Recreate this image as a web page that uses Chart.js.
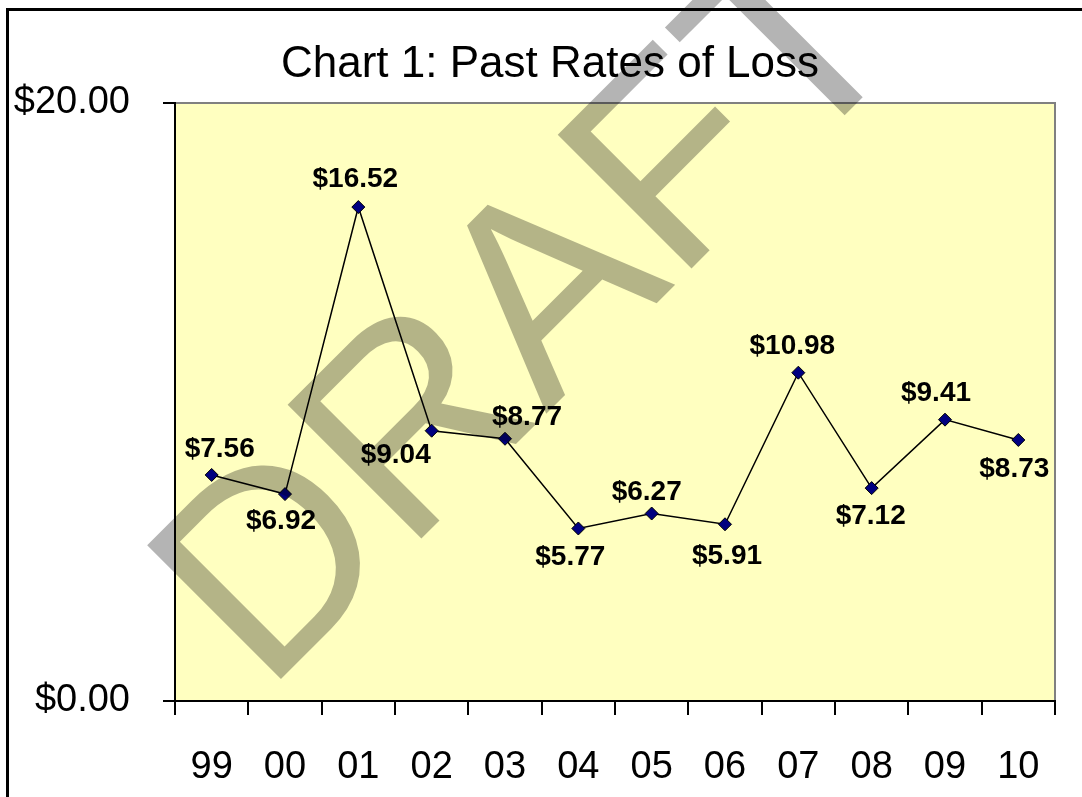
<!DOCTYPE html>
<html><head><meta charset="utf-8">
<script src="https://cdn.jsdelivr.net/npm/chart.js@4.4.1/dist/chart.umd.min.js"></script>
<style>html,body{margin:0;padding:0;background:#fff;}#wrap{width:1082px;height:797px;position:relative;}</style>
</head><body><div id="wrap"><canvas id="c"></canvas></div>
<script>
const categories = ['99','00','01','02','03','04','05','06','07','08','09','10'];
const lossRates = [7.56, 6.92, 16.52, 9.04, 8.77, 5.77, 6.27, 5.91, 10.98, 7.12, 9.41, 8.73];
const yTickValues = [0, 20];
const chartTitle = 'Chart 1: Past Rates of Loss';
const watermarkText = 'DRAFT';
// data label offsets relative to each point (px)
const labelDx = [8, -4, -3, -36, 22, -8, -5, 2, -6, -1, -9, -4];
const labelDy = [-26, 27, -28, 25, -21, 29, -21, 32, -26, 28, -26, 29];

const FONT = '"Liberation Sans", Arial, sans-serif';

const frame = {
  id: 'frame',
  beforeDraw(chart) {
    const {ctx, chartArea: a} = chart;
    ctx.save();
    ctx.fillStyle = '#fff';
    ctx.fillRect(0, 0, chart.width, chart.height);
    ctx.fillStyle = '#FFFFC0';
    ctx.fillRect(a.left, a.top, a.right - a.left, a.bottom - a.top);
    ctx.strokeStyle = '#808080';
    ctx.lineWidth = 2;
    ctx.beginPath();
    ctx.moveTo(a.left, a.top);
    ctx.lineTo(a.right, a.top);
    ctx.lineTo(a.right, a.bottom);
    ctx.stroke();
    ctx.strokeStyle = '#000';
    ctx.lineWidth = 3;
    ctx.strokeRect(7.5, 9.5, chart.width + 20, chart.height + 20);
    ctx.fillStyle = '#000';
    ctx.font = '44px ' + FONT;
    ctx.textAlign = 'center';
    ctx.textBaseline = 'middle';
    ctx.fillText(chartTitle, 550, 65);
    ctx.restore();
  },
  afterDatasetsDraw(chart) {
    const {ctx} = chart;
    const meta = chart.getDatasetMeta(0);
    ctx.save();
    ctx.fillStyle = '#000';
    ctx.font = 'bold 28px ' + FONT;
    ctx.textAlign = 'center';
    ctx.textBaseline = 'middle';
    meta.data.forEach((pt, i) => {
      ctx.fillText('$' + lossRates[i].toFixed(2), pt.x + labelDx[i], pt.y + labelDy[i]);
    });
    ctx.restore();
  },
  afterDraw(chart) {
    const {ctx} = chart;
    ctx.save();
    ctx.globalCompositeOperation = 'multiply';
    ctx.fillStyle = 'rgb(180,180,180)';
    ctx.font = '275px ' + FONT;
    ctx.textAlign = 'left';
    ctx.textBaseline = 'alphabetic';
    ctx.translate(265, 695);
    ctx.rotate(-Math.PI / 4);
    ctx.fillText(watermarkText, 0, 0);
    ctx.restore();
  }
};

new Chart(document.getElementById('c'), {
  type: 'line',
  data: {
    labels: categories,
    datasets: [{
      data: lossRates,
      borderColor: '#000',
      borderWidth: 1.5,
      pointStyle: 'rectRot',
      pointRadius: 6.5,
      pointHoverRadius: 6.5,
      pointBackgroundColor: '#000080',
      pointBorderColor: '#000',
      pointBorderWidth: 1,
      tension: 0,
      fill: false
    }]
  },
  options: {
    responsive: true,
    maintainAspectRatio: false,
    animation: false,
    events: [],
    layout: {padding: {top: 103, right: 27, left: 0, bottom: 0}},
    plugins: {legend: {display: false}, title: {display: false}, tooltip: {enabled: false}},
    scales: {
      x: {
        type: 'category',
        offset: true,
        grid: {offset: true, drawOnChartArea: false, tickLength: 14, color: '#000', lineWidth: 2},
        border: {color: '#000', width: 2},
        ticks: {font: {family: FONT, size: 38}, color: '#000', padding: 30, maxRotation: 0, autoSkip: false},
        afterFit(s) { s.height = 96; s.paddingLeft = 0; s.paddingRight = 0; }
      },
      y: {
        min: 0,
        max: 20,
        afterBuildTicks(s) { s.ticks = yTickValues.map(v => ({value: v})); },
        grid: {drawOnChartArea: false, tickLength: 12, color: '#000', lineWidth: 2},
        border: {color: '#000', width: 2},
        ticks: {font: {family: FONT, size: 38}, color: '#000', padding: 33,
          callback: v => '$' + Number(v).toFixed(2)},
        afterFit(s) { s.width = 175; s.paddingTop = 0; s.paddingBottom = 0; }
      }
    }
  },
  plugins: [frame]
});
</script>
</body></html>
